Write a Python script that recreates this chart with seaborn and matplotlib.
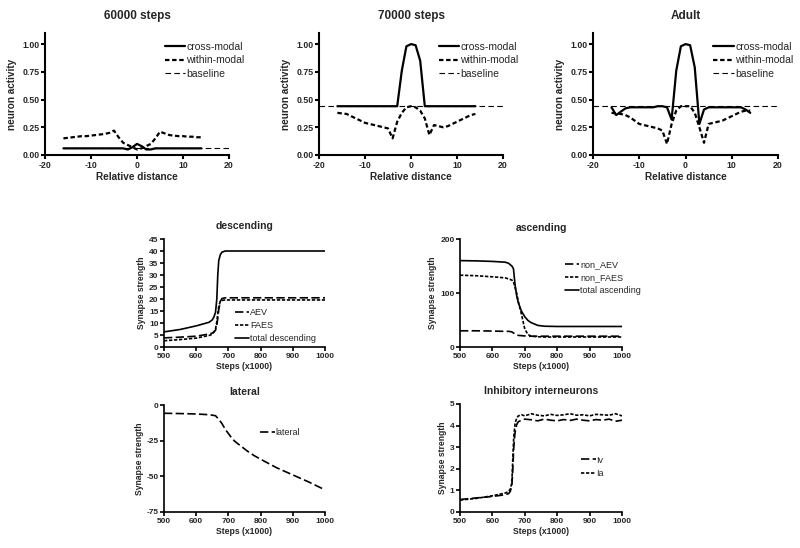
import matplotlib
matplotlib.use("Agg")
import matplotlib.pyplot as plt
import seaborn as sns
import pandas as pd

# ---------------- data ----------------
dist = [-16,-15,-14,-13,-12,-11,-10,-9,-8,-7,-6,-5,-4,-3,-2,-1,0,1,2,3,4,5,6,7,8,9,10,11,12,13,14]

cross60 = [0.06,0.06,0.06,0.06,0.06,0.06,0.06,0.06,0.06,0.06,0.06,0.06,0.06,0.06,
           0.05,0.07,0.10,0.08,0.05,0.05,
           0.06,0.06,0.06,0.06,0.06,0.06,0.06,0.06,0.06,0.06,0.06]
within60 = [0.15,0.155,0.16,0.165,0.17,0.17,0.175,0.18,0.185,0.19,0.20,0.22,0.16,0.11,0.09,0.07,
            0.05,0.06,0.08,0.10,0.15,0.21,0.195,0.18,0.175,0.17,0.17,0.165,0.165,0.16,0.16]
base60_x = [-16, 20]
base60 = [0.06, 0.06]

cross70 = [0.44,0.44,0.44,0.44,0.44,0.44,0.44,0.44,0.44,0.44,0.44,0.44,0.44,
           0.44,0.76,0.98,1.00,0.99,0.85,0.44,
           0.44,0.44,0.44,0.44,0.44,0.44,0.44,0.44,0.44,0.44,0.44]
within70 = [0.38,0.375,0.37,0.35,0.33,0.31,0.29,0.28,0.27,0.26,0.25,0.24,0.15,0.30,0.38,0.43,
            0.44,0.43,0.40,0.33,0.18,0.27,0.26,0.25,0.26,0.28,0.30,0.32,0.34,0.36,0.37]
base70_x = [-20, 20]
base70 = [0.44, 0.44]

crossAd = [0.43,0.36,0.39,0.42,0.43,0.43,0.43,0.43,0.43,0.43,0.44,0.44,0.43,0.32,0.76,0.98,
           1.00,0.99,0.79,0.28,0.41,0.43,0.43,0.43,0.43,0.43,0.43,0.43,0.43,0.41,0.38]
withinAd = [0.38,0.375,0.37,0.36,0.34,0.31,0.28,0.27,0.26,0.25,0.24,0.22,0.10,0.28,0.40,0.44,
            0.44,0.44,0.38,0.25,0.11,0.28,0.29,0.30,0.31,0.33,0.35,0.37,0.39,0.40,0.40]
baseAd_x = [-20, 20]
baseAd = [0.44, 0.44]

steps_d = [500,550,600,640,650,655,660,664,667,670,675,680,690,700,800,900,1000]
total_d = [6.3,7.3,8.8,10.3,11.3,12.5,14.5,20.0,30.0,36.0,38.5,39.5,40.0,40.0,40.0,40.0,40.0]
aev_d   = [3.8,4.1,4.5,5.4,5.8,6.3,7.0,9.0,12.0,15.5,19.0,20.2,20.5,20.5,20.5,20.5,20.5]
faes_d  = [2.6,3.1,3.7,4.8,5.3,6.2,7.5,10.5,14.0,17.0,19.0,19.4,19.6,19.6,19.6,19.6,19.6]

steps_a  = [500,550,600,640,650,660,665,670,675,680,690,700,710,720,740,760,800,900,1000]
total_a  = [160,159.5,158.5,157,155,150,145,115,95,82,66,56,49,45,40,38.5,38,38,38]
nonfaes_a = [133,132,130,128,126,124,121,110,99,84,60,33,23,20,19,18.5,18.5,18.5,18.5]
nonaev_a = [30,30,29.5,29,29,28,26,24,22.5,21.5,21,20.5,20,20,20,20,20,20,20]

steps_l = [500,550,600,640,660,670,680,690,700,710,720,740,760,780,800,850,900,950,1000]
lateral = [-5.8,-6.0,-6.3,-6.8,-7.5,-10,-13,-17,-20,-23,-25.5,-29,-32.5,-35.5,-38,-44,-49,-54,-59.5]

steps_i = [500,550,600,640,650,655,660,663,666,670,675,680,690,700,720,740,760,780,800,
           820,840,860,880,900,920,940,960,980,1000]
iv = [0.58,0.65,0.72,0.80,0.85,0.95,1.2,2.0,3.0,3.7,4.05,4.18,4.25,4.3,4.27,4.22,4.3,4.25,4.22,
      4.28,4.24,4.3,4.25,4.22,4.28,4.25,4.3,4.2,4.25]
ia = [0.55,0.63,0.75,0.88,0.95,1.05,1.35,2.5,3.5,4.1,4.35,4.45,4.5,4.45,4.55,4.48,4.45,4.52,4.47,
      4.5,4.55,4.48,4.5,4.45,4.52,4.5,4.48,4.55,4.45]

# ---------------- style ----------------
sns.set_style("ticks")
plt.rcParams['font.family'] = ['Liberation Sans', 'DejaVu Sans']
plt.rcParams['axes.unicode_minus'] = False

W, H = 800, 548
fig = plt.figure(figsize=(8, 5.48), dpi=100)

def add_ax(l, r, t, b):
    return fig.add_axes([l / W, 1 - b / H, (r - l) / W, (b - t) / H])

def style_ax(ax, lw, fs):
    for s in ['top', 'right']:
        ax.spines[s].set_visible(False)
    for s in ['left', 'bottom']:
        ax.spines[s].set_linewidth(lw)
        ax.spines[s].set_color('black')
    ax.tick_params(width=lw, length=3, color='black', labelsize=fs, pad=1.0)
    for lab in ax.get_xticklabels() + ax.get_yticklabels():
        lab.set_fontweight('bold')

def line(ax, x, y, ls, lw, label):
    df = pd.DataFrame({'x': x, 'y': y})
    sns.lineplot(data=df, x='x', y='y', ax=ax, color='black', linestyle=ls,
                 linewidth=lw, label=label, estimator=None, sort=False)

# ---------------- top row ----------------
top = [
    ("60000 steps", 45, 229, cross60, within60, base60_x, base60),
    ("70000 steps", 319, 503, cross70, within70, base70_x, base70),
    ("Adult", 593, 778, crossAd, withinAd, baseAd_x, baseAd),
]
for title, l, r, cr, wi, bx, bv in top:
    ax = add_ax(l, r, 33, 155)
    line(ax, dist, cr, '-', 1.6, 'cross-modal')
    line(ax, dist, wi, (0, (2, 1.2)), 1.6, 'within-modal')
    line(ax, bx, bv, (0, (5, 3)), 0.8, 'baseline')
    ax.set_xlim(-20, 20)
    ax.set_ylim(0, 1.1)
    ax.set_xticks([-20, -10, 0, 10, 20])
    ax.set_yticks([0, 0.25, 0.5, 0.75, 1.0])
    ax.set_yticklabels(['0.00', '0.25', '0.50', '0.75', '1.00'])
    ax.set_title(title, fontsize=8.5, fontweight='bold', pad=10)
    ax.set_xlabel('Relative distance', fontsize=7.2, fontweight='bold', labelpad=2)
    ax.set_ylabel('neuron activity', fontsize=7.2, fontweight='bold', labelpad=4)
    style_ax(ax, 1.5, 6.3)
    ax.legend(loc='upper left', bbox_to_anchor=(0.65, 0.93), frameon=False,
              fontsize=7.5, handlelength=2.0, handletextpad=0.1,
              labelspacing=0.35, borderaxespad=0.0, borderpad=0.0)

# ---------------- middle / bottom ----------------
steps_ticks = [500, 600, 700, 800, 900, 1000]

def lower_axes(ax, title, pad):
    ax.set_xlim(500, 1000)
    ax.set_xticks(steps_ticks)
    ax.set_title(title, fontsize=7.5, fontweight='bold', pad=pad)
    ax.set_xlabel('Steps (x1000)', fontsize=6.2, fontweight='bold', labelpad=2)
    ax.set_ylabel('Synapse strength', fontsize=6.2, fontweight='bold', labelpad=2)
    style_ax(ax, 1.2, 6)

# descending
ax = add_ax(164, 325, 239, 347)
line(ax, steps_d, aev_d, (0, (5, 2)), 1.2, 'AEV')
line(ax, steps_d, faes_d, (0, (2, 1)), 1.2, 'FAES')
line(ax, steps_d, total_d, '-', 1.2, 'total descending')
ax.set_ylim(0, 45); ax.set_yticks(list(range(0, 50, 5)))
lower_axes(ax, 'descending', 7)
ax.legend(loc='center left', bbox_to_anchor=(0.41, 0.2), frameon=False, fontsize=6.5,
          handlelength=1.6, handletextpad=0.1, labelspacing=0.45, borderpad=0.0)

# ascending
ax = add_ax(460, 622, 239, 347)
line(ax, steps_a, nonaev_a, (0, (5, 2)), 1.2, 'non_AEV')
line(ax, steps_a, nonfaes_a, (0, (2, 1)), 1.2, 'non_FAES')
line(ax, steps_a, total_a, '-', 1.2, 'total ascending')
ax.set_ylim(0, 200); ax.set_yticks([0, 100, 200])
lower_axes(ax, 'ascending', 6)
ax.legend(loc='center left', bbox_to_anchor=(0.62, 0.64), frameon=False, fontsize=6.5,
          handlelength=1.6, handletextpad=0.1, labelspacing=0.45, borderpad=0.0)

# lateral
ax = add_ax(164, 325, 405, 512)
line(ax, steps_l, lateral, (0, (5, 2)), 1.2, 'lateral')
ax.set_ylim(-75, 0); ax.set_yticks([0, -25, -50, -75])
lower_axes(ax, 'lateral', 7)
ax.legend(loc='center left', bbox_to_anchor=(0.57, 0.74), frameon=False, fontsize=6.5,
          handlelength=1.6, handletextpad=0.1, borderpad=0.0)

# inhibitory
ax = add_ax(460, 622, 404, 512)
line(ax, steps_i, iv, (0, (5, 2)), 1.2, 'Iv')
line(ax, steps_i, ia, (0, (2, 1)), 1.2, 'Ia')
ax.set_ylim(0, 5); ax.set_yticks([0, 1, 2, 3, 4, 5])
lower_axes(ax, 'Inhibitory interneurons', 7)
ax.legend(loc='center left', bbox_to_anchor=(0.72, 0.42), frameon=False, fontsize=6.5,
          handlelength=1.6, handletextpad=0.1, labelspacing=0.45, borderpad=0.0)

fig.savefig('out.png', dpi=100)
